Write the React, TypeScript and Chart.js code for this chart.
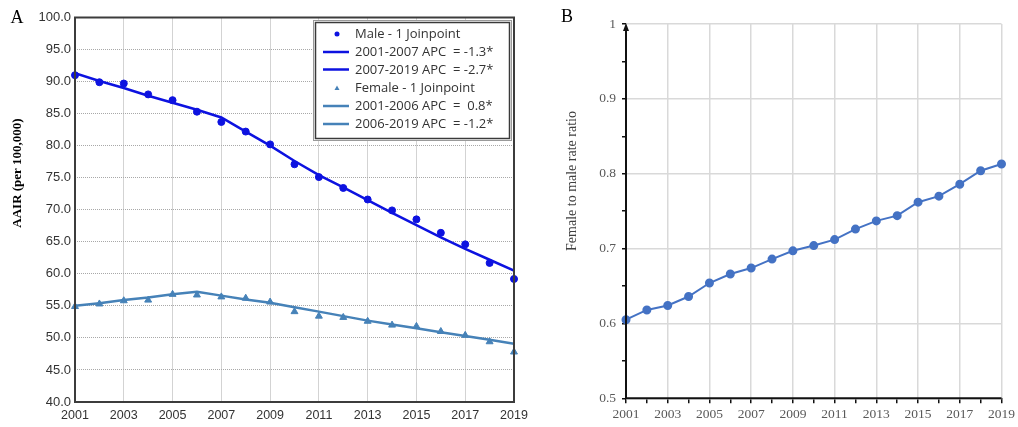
import React, { useEffect, useRef } from "react";
import { Chart, registerables } from "chart.js";
Chart.register(...registerables);

const years = [2001, 2002, 2003, 2004, 2005, 2006, 2007, 2008, 2009, 2010, 2011, 2012, 2013, 2014, 2015, 2016, 2017, 2018, 2019];
const maleAAIR = [91.0, 89.9, 89.7, 88.0, 87.1, 85.3, 83.7, 82.2, 80.2, 77.1, 75.1, 73.4, 71.6, 69.9, 68.5, 66.4, 64.6, 61.7, 59.2];
const femaleAAIR = [54.9, 55.3, 55.8, 55.9, 56.8, 56.7, 56.4, 56.2, 55.6, 54.1, 53.4, 53.2, 52.6, 52.0, 51.8, 51.0, 50.4, 49.4, 47.8];
// Joinpoint fitted lines, one value per year
const maleFit = [91.3, 90.1, 89.0, 87.8, 86.7, 85.6, 84.4, 82.2, 80.0, 77.6, 75.4, 73.5, 71.5, 69.5, 67.6, 65.7, 63.9, 62.2, 60.5];
const femaleFit = [55.0, 55.4, 55.9, 56.3, 56.8, 57.2, 56.6, 56.0, 55.5, 54.8, 54.1, 53.4, 52.7, 52.1, 51.5, 50.9, 50.3, 49.7, 49.1];
const ratioValues = [0.605, 0.618, 0.624, 0.636, 0.654, 0.666, 0.674, 0.686, 0.697, 0.704, 0.712, 0.726, 0.737, 0.744, 0.762, 0.770, 0.786, 0.804, 0.813];

const legendLabels = [
  "Male - 1 Joinpoint",
  "2001-2007 APC  = -1.3*",
  "2007-2019 APC  = -2.7*",
  "Female - 1 Joinpoint",
  "2001-2006 APC  =  0.8*",
  "2006-2019 APC  = -1.2*",
];
const legendKinds = ["circle", "line", "line", "triangle", "line", "line"];

const MALE = "#0d12e0";
const FEMALE = "#4682b8";
const RATIO = "#4472c4";

function ChartA() {
  const ref = useRef<HTMLCanvasElement>(null);
  useEffect(() => {
    const ctx = ref.current!;
    const decor = {
      id: "decorA",
      afterDraw(chart: any) {
        const c = chart.ctx;
        const a = chart.chartArea;
        c.save();
        c.strokeStyle = "#3c3c3c";
        c.lineWidth = 2;
        c.strokeRect(a.left, a.top, a.right - a.left, a.bottom - a.top);
        c.fillStyle = "#000";
        c.font = "18px 'Liberation Serif', serif";
        c.textAlign = "center";
        c.textBaseline = "middle";
        c.fillText("A", 17, 18);
        c.save();
        c.translate(18, 173);
        c.rotate(-Math.PI / 2);
        c.font = "bold 13px 'Liberation Serif', serif";
        c.fillText("AAIR (per 100,000)", 0, 0);
        c.restore();
        const lx = 313, ly = 20, lw = 198, lh = 120;
        c.fillStyle = "#fff";
        c.fillRect(lx, ly, lw, lh);
        c.strokeStyle = "#9a9a9a";
        c.lineWidth = 1;
        c.strokeRect(lx + 0.5, ly + 0.5, lw, lh);
        c.strokeStyle = "#3a3a3a";
        c.lineWidth = 1.5;
        c.strokeRect(lx + 2.5, ly + 2.5, lw - 4, lh - 4);
        const rows = [34, 52, 69.5, 88, 106, 124];
        c.font = "13px 'Open Sans', sans-serif";
        c.textAlign = "left";
        legendLabels.forEach((t, i) => {
          const y = rows[i];
          const kind = legendKinds[i];
          const col = i < 3 ? MALE : FEMALE;
          c.fillStyle = col;
          c.strokeStyle = col;
          if (kind === "circle") {
            c.beginPath();
            c.arc(337, y, 2.5, 0, Math.PI * 2);
            c.fill();
          } else if (kind === "triangle") {
            c.beginPath();
            c.moveTo(337, y - 2.5);
            c.lineTo(339.5, y + 2);
            c.lineTo(334.5, y + 2);
            c.closePath();
            c.fill();
          } else {
            c.lineWidth = 2.5;
            c.beginPath();
            c.moveTo(323, y);
            c.lineTo(349, y);
            c.stroke();
          }
          c.fillStyle = "#333";
          c.fillText(t, 355, y + 0.5);
        });
        c.restore();
      },
    };
    const chart = new Chart(ctx, {
      type: "line",
      data: {
        datasets: [
          {
            label: "Male",
            data: years.map((x, i) => ({ x, y: maleAAIR[i] })),
            showLine: false,
            pointStyle: "circle",
            pointRadius: 3.5,
            pointBackgroundColor: MALE,
            pointBorderColor: MALE,
            borderColor: MALE,
            clip: false,
          },
          {
            label: "Male fit",
            data: years.map((x, i) => ({ x, y: maleFit[i] })),
            borderColor: MALE,
            borderWidth: 2.5,
            pointRadius: 0,
            tension: 0,
          },
          {
            label: "Female",
            data: years.map((x, i) => ({ x, y: femaleAAIR[i] })),
            showLine: false,
            pointStyle: "triangle",
            pointRadius: 4,
            pointBackgroundColor: FEMALE,
            pointBorderColor: FEMALE,
            borderColor: FEMALE,
            clip: false,
          },
          {
            label: "Female fit",
            data: years.map((x, i) => ({ x, y: femaleFit[i] })),
            borderColor: FEMALE,
            borderWidth: 2.5,
            pointRadius: 0,
            tension: 0,
          },
        ],
      },
      options: {
        animation: false,
        responsive: false,
        layout: { padding: { top: 17.5, right: 26, bottom: 0, left: 0 } },
        plugins: { legend: { display: false }, tooltip: { enabled: false } },
        scales: {
          x: {
            type: "linear",
            min: 2001,
            max: 2019,
            afterFit: (s: any) => { s.height = 25; },
            afterBuildTicks: (s: any) => {
              s.ticks = [];
              for (let v = 2001; v <= 2019; v += 2) s.ticks.push({ value: v });
            },
            ticks: {
              callback: (v: any) => String(v),
              font: { family: "'Liberation Sans', sans-serif", size: 12.5 },
              color: "#333",
              padding: 6,
              maxRotation: 0,
              autoSkip: false,
            },
            grid: { color: "#a8a8a8", lineWidth: 1, drawTicks: false },
            border: { display: false, dash: [1, 1] },
          },
          y: {
            min: 40,
            max: 100,
            afterFit: (s: any) => { s.width = 75; },
            ticks: {
              stepSize: 5,
              callback: (v: any) => Number(v).toFixed(1),
              font: { family: "'Liberation Sans', sans-serif", size: 13 },
              color: "#333",
              padding: 4,
            },
            grid: { color: "#a8a8a8", lineWidth: 1, drawTicks: false },
            border: { display: false, dash: [1, 1] },
          },
        },
      },
      plugins: [decor],
    } as any);
    return () => chart.destroy();
  }, []);
  return <canvas ref={ref} width={540} height={427} style={{ position: "absolute", left: 0, top: 0 }} />;
}

function ChartB() {
  const ref = useRef<HTMLCanvasElement>(null);
  useEffect(() => {
    const ctx = ref.current!;
    const decor = {
      id: "decorB",
      afterDraw(chart: any) {
        const c = chart.ctx;
        const a = chart.chartArea;
        c.save();
        c.strokeStyle = "#111";
        c.fillStyle = "#111";
        c.lineWidth = 2;
        c.beginPath();
        c.moveTo(a.left, a.bottom);
        c.lineTo(a.left, a.top + 2);
        c.moveTo(a.left, a.bottom);
        c.lineTo(a.right, a.bottom);
        c.stroke();
        c.beginPath();
        c.moveTo(a.left, a.top - 1);
        c.lineTo(a.left + 3, a.top + 7);
        c.lineTo(a.left - 3, a.top + 7);
        c.closePath();
        c.fill();
        c.fillStyle = "#000";
        c.font = "18px 'Liberation Serif', serif";
        c.textAlign = "center";
        c.textBaseline = "middle";
        c.fillText("B", 27, 17);
        c.save();
        c.translate(32, 181);
        c.rotate(-Math.PI / 2);
        c.fillStyle = "#404040";
        c.font = "14px 'Liberation Serif', serif";
        c.fillText("Female to male rate ratio", 0, 0);
        c.restore();
        c.restore();
      },
    };
    const chart = new Chart(ctx, {
      type: "line",
      data: {
        datasets: [
          {
            label: "Ratio",
            data: years.map((x, i) => ({ x, y: ratioValues[i] })),
            borderColor: RATIO,
            backgroundColor: RATIO,
            borderWidth: 2,
            pointRadius: 3.5,
            pointBackgroundColor: RATIO,
            pointBorderColor: RATIO,
            tension: 0,
            clip: false,
          },
        ],
      },
      options: {
        animation: false,
        responsive: false,
        layout: { padding: { top: 24, right: 16, bottom: 4.7, left: 0 } },
        plugins: { legend: { display: false }, tooltip: { enabled: false } },
        scales: {
          x: {
            type: "linear",
            min: 2001,
            max: 2019,
            afterFit: (s: any) => { s.height = 24; },
            afterBuildTicks: (s: any) => {
              s.ticks = [];
              for (let v = 2001; v <= 2019; v += 1) s.ticks.push({ value: v });
            },
            ticks: {
              callback: (v: any) => ((Number(v) - 2001) % 2 === 0 ? String(v) : ""),
              font: { family: "'Liberation Serif', serif", size: 13.5 },
              color: "#595959",
              padding: 3,
              maxRotation: 0,
              autoSkip: false,
            },
            grid: {
              color: (c: any) => (c.tick && (c.tick.value - 2001) % 2 === 0 ? "#d9d9d9" : "rgba(0,0,0,0)"),
              lineWidth: 1.5,
              drawTicks: true,
              tickLength: 5,
              tickColor: "#111",
              tickWidth: 1.5,
            },
            border: { display: false },
          },
          y: {
            min: 0.5,
            max: 1.0,
            afterFit: (s: any) => { s.width = 86; },
            afterBuildTicks: (s: any) => {
              s.ticks = [];
              for (let k = 0; k <= 10; k++) s.ticks.push({ value: 0.5 + k * 0.05 });
            },
            ticks: {
              callback: (v: any) => {
                const k = Math.round((Number(v) - 0.5) / 0.05);
                if (k % 2 !== 0) return "";
                const val = Math.round(Number(v) * 10) / 10;
                return val === 1 ? "1" : val.toFixed(1);
              },
              font: { family: "'Liberation Serif', serif", size: 13.5 },
              color: "#595959",
              padding: 6,
              autoSkip: false,
            },
            grid: {
              color: (c: any) => {
                if (!c.tick) return "rgba(0,0,0,0)";
                const k = Math.round((c.tick.value - 0.5) / 0.05);
                return k % 2 === 0 ? "#d9d9d9" : "rgba(0,0,0,0)";
              },
              lineWidth: 1.5,
              drawTicks: true,
              tickLength: 4,
              tickColor: "#111",
              tickWidth: 1.5,
            },
            border: { display: false },
          },
        },
      },
      plugins: [decor],
    } as any);
    return () => chart.destroy();
  }, []);
  return <canvas ref={ref} width={478} height={427} style={{ position: "absolute", left: 540, top: 0 }} />;
}

export default function App() {
  return (
    <div style={{ position: "absolute", left: 0, top: 0, width: 1018, height: 427, background: "#fff" }}>
      <ChartA />
      <ChartB />
    </div>
  );
}
